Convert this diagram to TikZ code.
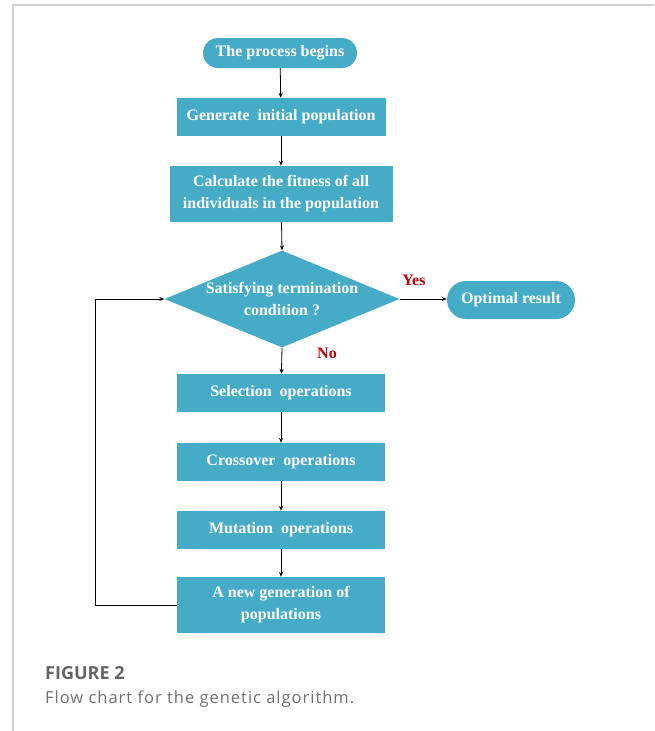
\documentclass[tikz,border=0pt]{standalone}
\usepackage{fontspec}
\setmainfont{Liberation Serif}
\newfontfamily\capfont{Open Sans}
\newfontfamily\capbodyfont[LetterSpace=6]{Open Sans}
\usetikzlibrary{shapes.geometric,arrows.meta}
\definecolor{teal}{RGB}{69,171,198}
\definecolor{darkred}{RGB}{192,0,0}
\definecolor{framegray}{RGB}{208,208,208}
\definecolor{capgray}{RGB}{100,100,100}
\definecolor{captextgray}{RGB}{112,112,112}
\tikzset{
  boxfont/.style={font=\fontsize{16}{22}\selectfont\bfseries, text=white, align=center},
  procbox/.style={rectangle, fill=teal, inner sep=0pt, minimum width=208pt, minimum height=38pt, boxfont},
  termbox/.style={rectangle, fill=teal, rounded corners=15pt, inner sep=0pt, boxfont},
  decision/.style={diamond, fill=teal, inner sep=0pt, minimum width=235pt, minimum height=97pt},
  flow/.style={draw=black, line width=0.8pt, -{Stealth[length=5pt,width=4pt]}},
  answer/.style={font=\fontsize{16}{19}\selectfont\bfseries, text=darkred},
}
\begin{document}
\begin{tikzpicture}[x=1pt,y=-1pt]
\useasboundingbox (0,0) rectangle (654,731);
% card edge
\draw[framegray, line width=1.2pt] (654,5) -- (13,5) -- (13,731);

% flow chart nodes
\node[termbox, minimum width=154pt, minimum height=30pt] (start) at (280,53) {The process begins};
\node[procbox, minimum width=209pt] (init) at (281,117) {Generate\ \ initial population};
\node[procbox, minimum width=223pt, minimum height=56pt] (fit) at (281,194) {Calculate the fitness of all\\individuals in the population};
\node[decision] (dia) at (282,299) {};
\node[boxfont] (diatext) at (dia.center) {Satisfying termination\\condition ?};
\node[termbox, rounded corners=19pt, minimum width=128pt, minimum height=38pt] (opt) at (511,300) {Optimal result};
\node[procbox] (sel) at (281,393) {Selection\ \ operations};
\node[procbox] (cross) at (281,462) {Crossover\ \ operations};
\node[procbox] (mut) at (281,530) {Mutation\ \ operations};
\node[procbox, minimum height=56pt] (newgen) at (281,605) {A new generation of\\populations};

% branch labels
\node[answer] (yes) at (414,280) {Yes};
\node[answer] (no) at (327,353) {No};

% connectors
\draw[flow] (start) -- (init);
\draw[flow] (init) -- (fit);
\draw[flow] (fit) -- (dia.north);
\draw[flow] (dia.east) -- (opt.west |- dia.east);
\draw[flow] (dia.south) -- (sel);
\draw[flow] (sel) -- (cross);
\draw[flow] (cross) -- (mut);
\draw[flow] (mut) -- (newgen);
\coordinate (loopbot) at (95,605);
\coordinate (looptop) at (95,299);
\draw[flow] (newgen.west) -- (loopbot) -- (looptop) -- (dia.west);

% caption
\node[anchor=base west, inner sep=0pt, font=\capfont\fontsize{18}{22}\selectfont\bfseries, text=capgray] (figlabel) at (45,679) {FIGURE 2};
\node[anchor=base west, inner sep=0pt, font=\capbodyfont\fontsize{16.5}{22}\selectfont, text=captextgray] (figtext) at (45,703) {Flow chart for the genetic algorithm.};
\end{tikzpicture}
\end{document}
